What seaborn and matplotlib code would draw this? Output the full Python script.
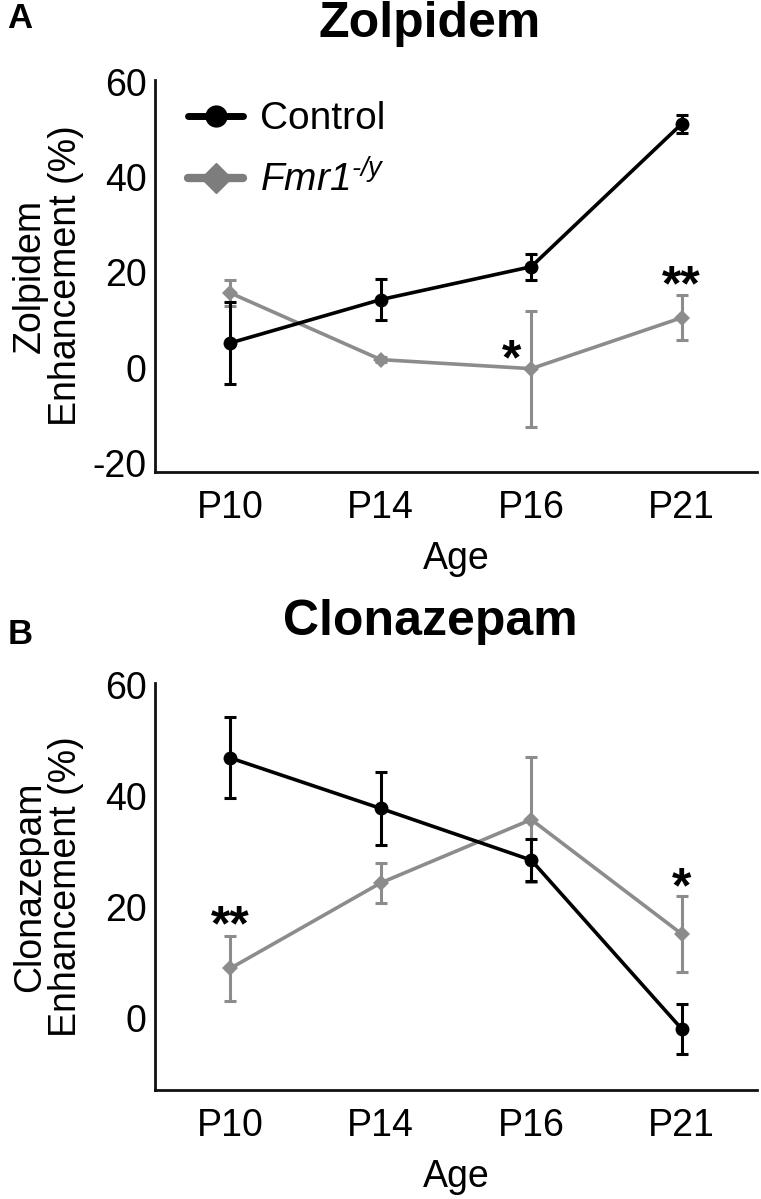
import pandas as pd
import seaborn as sns
import matplotlib.pyplot as plt
from matplotlib.lines import Line2D

ages = ['P10', 'P14', 'P16', 'P21']

# Zolpidem enhancement (%), mean and error
zol_ctrl = [5.2, 14.3, 21.2, 51.2]
zol_ctrl_err = [8.6, 4.3, 2.7, 1.9]
zol_fmr = [15.7, 1.7, -0.2, 10.5]
zol_fmr_err = [2.8, 0.6, 12.2, 4.7]

# Clonazepam enhancement (%), mean and error
clo_ctrl = [46.8, 37.7, 28.4, -2.0]
clo_ctrl_err = [7.3, 6.5, 3.8, 4.5]
clo_fmr = [8.9, 24.3, 35.7, 15.1]
clo_fmr_err = [5.8, 3.6, 11.3, 6.8]

# significance stars: (age, y, text)
zol_stars = [('P16', 4.6, '*'), ('P21', 20.1, '**')]
clo_stars = [('P10', 19.0, '**'), ('P21', 26.0, '*')]

sns.set_style('white')
plt.rcParams['font.family'] = ['Liberation Sans', 'DejaVu Sans']
# mathtext only used for the italic genotype label, so make both faces italic
plt.rcParams['mathtext.fontset'] = 'custom'
plt.rcParams['mathtext.it'] = 'Liberation Sans:italic'
plt.rcParams['mathtext.rm'] = 'Liberation Sans:italic'
plt.rcParams['text.color'] = 'black'
plt.rcParams['axes.labelcolor'] = 'black'
plt.rcParams['xtick.color'] = 'black'
plt.rcParams['ytick.color'] = 'black'

BLACK = '#000000'
GRAY = '#8c8c8c'
FMR_LABEL = '$\\mathit{Fmr1}^{\\mathit{\u2010/y}}$'
FS = 27


def draw_panel(ax, ctrl, ctrl_err, fmr, fmr_err, stars, ylim, yticks, ylabel):
    df = pd.DataFrame({
        'Age': ages * 2,
        'value': ctrl + fmr,
        'err': ctrl_err + fmr_err,
        'group': ['Control'] * 4 + ['Fmr1'] * 4,
    })
    fm = df[df.group == 'Fmr1']
    ct = df[df.group == 'Control']
    ax.errorbar(fm.Age, fm.value, yerr=fm.err, fmt='none', ecolor=GRAY,
                elinewidth=2.2, capsize=4, capthick=2.2, zorder=2)
    sns.lineplot(data=fm, x='Age', y='value', color=GRAY, marker='D',
                 markersize=8, markeredgewidth=0, linewidth=2.6, sort=False, ax=ax, zorder=3)
    ax.errorbar(ct.Age, ct.value, yerr=ct.err, fmt='none', ecolor=BLACK,
                elinewidth=2.2, capsize=4, capthick=2.2, zorder=4)
    sns.lineplot(data=ct, x='Age', y='value', color=BLACK, marker='o',
                 markersize=10, markeredgewidth=0, linewidth=2.6, sort=False, ax=ax, zorder=5)
    for age, y, s in stars:
        shift = -0.13 if (s == '*' and age == 'P16') else 0
        ax.annotate(s, (ages.index(age) + shift, y), xytext=(0, -20.5),
                    textcoords='offset points', ha='center', va='baseline',
                    fontsize=36, fontweight='bold')
    ax.set_xlim(-0.5, 3.5)
    ax.set_ylim(*ylim)
    ax.set_yticks(yticks)
    ax.set_yticklabels([str(t) for t in yticks])
    ax.tick_params(axis='both', length=0, labelsize=FS)
    ax.tick_params(axis='x', pad=13)
    ax.tick_params(axis='y', pad=6)
    sns.despine(ax=ax)
    for sp in ['left', 'bottom']:
        ax.spines[sp].set_linewidth(2.0)
        ax.spines[sp].set_color('#111111')
    ax.set_xlabel('Age', fontsize=FS, labelpad=11)
    ax.set_ylabel(ylabel, fontsize=FS, linespacing=1.0)
    ax.yaxis.set_label_coords(-0.118, 0.5)


fig = plt.figure(figsize=(7.61, 11.99), dpi=100)
axA = fig.add_axes([0.2037, 0.6063, 0.791, 0.3270])
axB = fig.add_axes([0.2037, 0.0909, 0.791, 0.3395])

draw_panel(axA, zol_ctrl, zol_ctrl_err, zol_fmr, zol_fmr_err, zol_stars,
           (-21.9, 60.4), [-20, 0, 20, 40, 60], 'Zolpidem\nEnhancement (%)')
draw_panel(axB, clo_ctrl, clo_ctrl_err, clo_fmr, clo_fmr_err, clo_stars,
           (-13.0, 60.3), [0, 20, 40, 60], 'Clonazepam\nEnhancement (%)')

handles = [
    Line2D([], [], color=BLACK, lw=5, marker='o', markersize=15),
    Line2D([], [], color='#7d7d7d', lw=6, marker='D', markersize=15),
]
axA.legend(handles, ['Control', FMR_LABEL], loc='upper left', bbox_to_anchor=(0.02, 1.0),
           frameon=False, fontsize=28, handlelength=1.4, handletextpad=0.45,
           labelspacing=0.6, borderaxespad=0.15)

fig.text(0.565, 1 - 37 / 1199, 'Zolpidem', ha='center', va='baseline', fontsize=36, fontweight='bold')
fig.text(0.565, 1 - 635 / 1199, 'Clonazepam', ha='center', va='baseline', fontsize=36, fontweight='bold')
fig.text(0.026, 1 - 19 / 1199, 'A', ha='center', va='center', fontsize=25, fontweight='bold')
fig.text(0.026, 1 - 634 / 1199, 'B', ha='center', va='center', fontsize=25, fontweight='bold')

fig.savefig('out.png', dpi=100)
